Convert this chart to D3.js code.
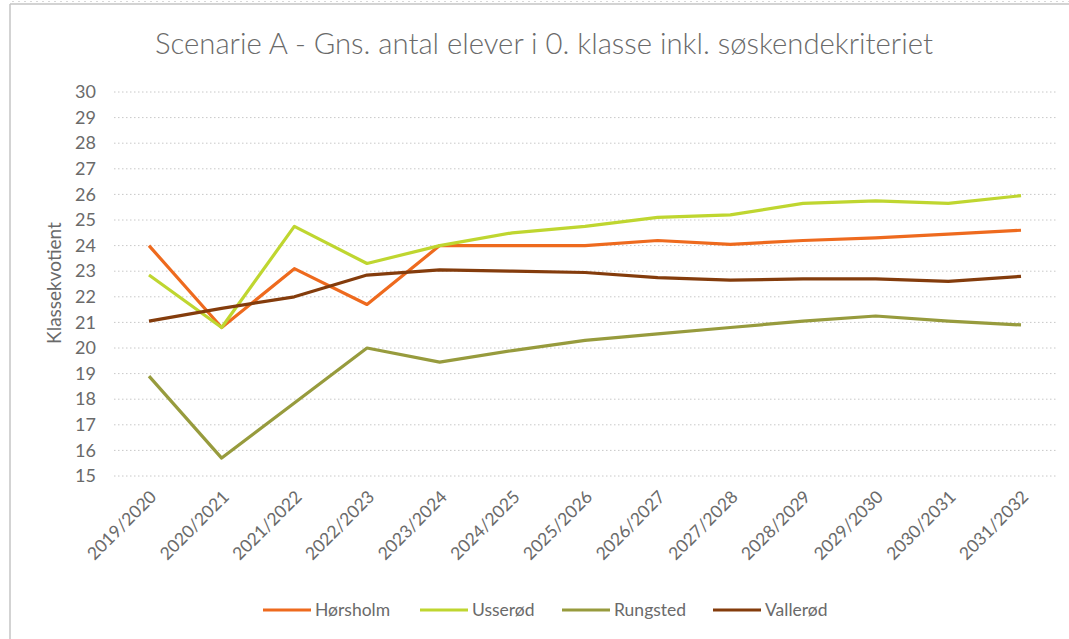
<!DOCTYPE html>
<meta charset="utf-8">
<style>
body { margin: 0; background: #fff; }
text { font-family: Lato, "Open Sans", sans-serif; fill: #595959; }
.grid line { stroke: #c8c8c8; stroke-dasharray: 1.5,2.5; stroke-width: 1; }
</style>
<svg></svg>
<script src="https://d3js.org/d3.v7.min.js"></script>
<script>

// categories (school years)
var years = ["2019/2020","2020/2021","2021/2022","2022/2023","2023/2024","2024/2025",
  "2025/2026","2026/2027","2027/2028","2028/2029","2029/2030","2030/2031","2031/2032"];

// series values
var horsholm = [24.0, 20.8, 23.1, 21.7, 24.0, 24.0, 24.0, 24.2, 24.05, 24.2, 24.3, 24.45, 24.6];
var usserod  = [22.85, 20.8, 24.75, 23.3, 24.0, 24.5, 24.75, 25.1, 25.2, 25.65, 25.75, 25.65, 25.95];
var rungsted = [18.9, 15.7, 17.85, 20.0, 19.45, 19.9, 20.3, 20.55, 20.8, 21.05, 21.25, 21.05, 20.9];
var vallerod = [21.05, 21.55, 22.0, 22.85, 23.05, 23.0, 22.95, 22.75, 22.65, 22.7, 22.7, 22.6, 22.8];

var names  = ["Hørsholm", "Usserød", "Rungsted", "Vallerød"];
var colors = ["#ee6a1e", "#bfd630", "#979b3d", "#843c0c"];
var yTicks = d3.range(15, 31);

var series = [horsholm, usserod, rungsted, vallerod];

var width = 1069, height = 639;
var svg = d3.select("svg").attr("width", width).attr("height", height);

// frame (left + top edge of the pasted chart)
svg.append("line").attr("x1", 10).attr("x2", 10).attr("y1", 4).attr("y2", height)
  .attr("stroke", "#c4c4c4").attr("stroke-width", 1.5);
svg.append("line").attr("x1", 10).attr("x2", width).attr("y1", 4).attr("y2", 4)
  .attr("stroke", "#c4c4c4").attr("stroke-width", 1.5);
svg.append("line").attr("x1", 12).attr("x2", width).attr("y1", 1.5).attr("y2", 1.5)
  .attr("stroke", "#d8d8d8").attr("stroke-dasharray", "2,4");

var x = d3.scalePoint().domain(years).range([149, 1021]);
var y = d3.scaleLinear().domain([15, 30]).range([476, 92]);

// title
svg.append("text")
  .attr("x", 544).attr("y", 54)
  .attr("text-anchor", "middle")
  .attr("font-size", 29)
  .attr("font-weight", 300)
  .attr("textLength", 778)
  .attr("lengthAdjust", "spacingAndGlyphs")
  .style("fill", "#6a6a6a")
  .text("Scenarie A - Gns. antal elever i 0. klasse inkl. søskendekriteriet");

// gridlines
svg.append("g").attr("class", "grid")
  .selectAll("line").data(yTicks).enter().append("line")
  .attr("x1", 114).attr("x2", 1057)
  .attr("y1", function(d) { return y(d); })
  .attr("y2", function(d) { return y(d); });

// y axis labels
var yAxis = d3.axisLeft(y).tickValues(yTicks).tickSize(0).tickPadding(0);
var gy = svg.append("g").attr("transform", "translate(96,0)").call(yAxis);
gy.select(".domain").remove();
gy.selectAll("text").attr("font-size", 18).style("font-family", "Lato, sans-serif").style("fill", "#6a6a6a");

svg.append("text")
  .attr("transform", "translate(61,283) rotate(-90)")
  .attr("text-anchor", "middle")
  .attr("font-size", 19)
  .style("fill", "#6a6a6a")
  .text("Klassekvotient");

// x axis labels, rotated
var xAxis = d3.axisBottom(x).tickSize(0).tickPadding(0);
var gx = svg.append("g").attr("transform", "translate(0,476)").call(xAxis);
gx.select(".domain").remove();
gx.selectAll("text")
  .attr("font-size", 17.5)
  .style("font-family", "Lato, sans-serif")
  .style("fill", "#6a6a6a")
  .attr("text-anchor", "end")
  .attr("dy", 0)
  .attr("transform", "translate(8,22) rotate(-45)");

// lines
var line = d3.line()
  .x(function(d, i) { return x(years[i]); })
  .y(function(d) { return y(d); });

svg.append("g").selectAll("path").data(series).enter().append("path")
  .attr("d", line)
  .attr("fill", "none")
  .attr("stroke", function(d, i) { return colors[i]; })
  .attr("stroke-width", 3.2)
  .attr("stroke-linejoin", "round");

// legend
var legX = [263, 420, 562, 713];
var leg = svg.append("g").selectAll("g").data(names).enter().append("g")
  .attr("transform", function(d, i) { return "translate(" + legX[i] + ",610)"; });
leg.append("line").attr("x1", 0).attr("x2", 48).attr("y1", 0).attr("y2", 0)
  .attr("stroke", function(d, i) { return colors[i]; }).attr("stroke-width", 3.2);
leg.append("text").attr("x", 52).attr("y", 6).attr("font-size", 17.5)
  .style("fill", "#6a6a6a").text(function(d) { return d; });

</script>
